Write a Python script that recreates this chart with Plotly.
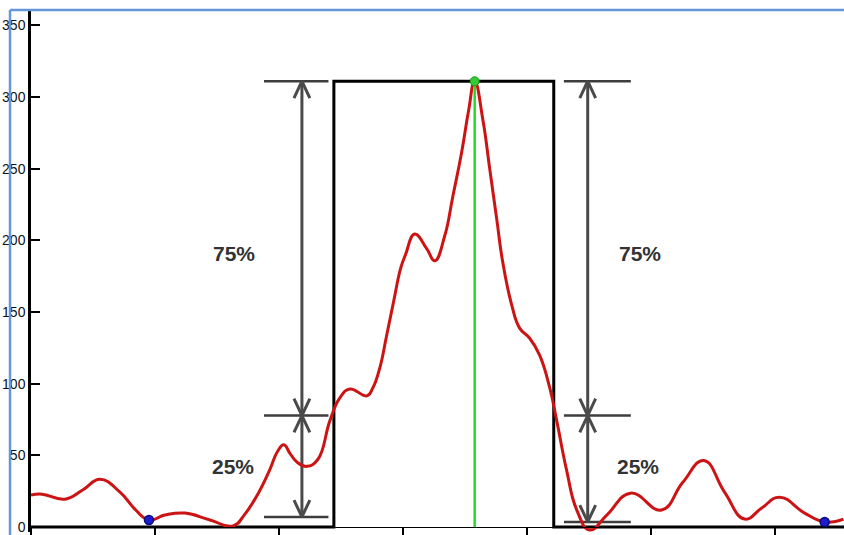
import plotly.graph_objects as go

# Measured response (red trace)
curve_x = [0, 4.4, 13.7, 21, 27.8, 35.9, 41.9, 47.6, 54, 62.1,
           72.2, 81.5, 86.3, 91.5, 96.4, 99.4, 102, 104.6, 107.5, 111.3, 115.7, 120.6,
           124.6, 128.6, 135.5, 137.9, 140.7, 143.5, 146.3, 149.1, 151.1, 154.8, 159.7, 162.9,
           166.9, 170.2, 173.8, 176.5, 179, 182.3, 185.1, 187.9, 190.3, 194,
           197.2, 201.2, 205.2, 209.3, 212.1, 216.1, 220.2, 225.4, 232.3, 241.9,
           254.4, 262.9, 271.4, 279.8, 287.9, 294.8, 302, 312.1, 320.2, 327.8]
curve_y = [22.2, 22.9, 19.4, 26, 33.3, 24.3, 12.5, 4.9, 8.3, 9.7,
           4.9, 0.7, 9, 22.9, 40.2, 52.5, 57.3, 51, 45, 42.3, 47.1, 74.2,
           90.1, 96.3, 91.5, 97, 110.9, 133.8, 157.3, 180.3, 190, 204.4, 194, 185.7,
           203, 230.8, 262, 290, 311, 284.1, 249.5, 214.8, 185, 154.5,
           138.6, 131.7, 119.9, 97, 74.2, 39.5, 11.8, -2.1, 8.3, 23.6,
           11.8, 31, 46.4, 24.3, 5.5, 13.2, 20.8, 9.7, 3.5, 5.5]

# Local minima used as the baseline reference points (blue dots)
minima_x = [47.6, 320.2]
minima_y = [4.9, 3.5]

# Ideal rectangular pulse edges
pulse_edges = [122.2, 210.9]
x_end = 328

# Dimension arrows: x position, extent of the horizontal guide lines, baseline
dim_x = [109.3, 224.6]
guide_lo = [94, 215]
guide_hi = [120, 242]
dim_base = [7, 3.5]

# Percentage labels
label_x = [[82, 245.6], [81.5, 244.8]]
label_y = [190.6, 42.3]
label_text = ["75%", "25%"]

peak_y = max(curve_y)
peak_x = curve_x[curve_y.index(peak_y)]
quarter = 0.25 * peak_y

Y_MIN, Y_MAX = -3.5, 360

fig = go.Figure()

# Ideal pulse (black step)
step_x = [0, pulse_edges[0], pulse_edges[0], pulse_edges[1], pulse_edges[1], x_end]
step_y = [0, 0, peak_y, peak_y, 0, 0]
fig.add_trace(go.Scatter(x=step_x, y=step_y, mode="lines",
                         line=dict(color="black", width=3), hoverinfo="skip"))

# Dimension arrows
ARM_DX, ARM_DY = 3.2, 11.8
gx, gy, ax_, ay_ = [], [], [], []
for i in range(2):
    x0 = dim_x[i]
    base = dim_base[i]
    for yv in (peak_y, quarter, base):
        gx += [guide_lo[i], guide_hi[i], None]
        gy += [yv, yv, None]
    ax_ += [x0, x0, None]
    ay_ += [base, peak_y, None]
    # heads: (tip y, direction) +1 pointing up, -1 pointing down
    for tip, d in ((peak_y, 1), (quarter, -1), (quarter, 1), (base, -1)):
        ax_ += [x0 - ARM_DX, x0, x0 + ARM_DX, None]
        ay_ += [tip - d * ARM_DY, tip, tip - d * ARM_DY, None]

fig.add_trace(go.Scatter(x=gx, y=gy, mode="lines",
                         line=dict(color="#3d3d3d", width=2.5), hoverinfo="skip"))
fig.add_trace(go.Scatter(x=ax_, y=ay_, mode="lines",
                         line=dict(color="#4a4a4a", width=3), hoverinfo="skip"))

# Response curve
fig.add_trace(go.Scatter(x=curve_x, y=curve_y, mode="lines",
                         line=dict(color="#cc1414", width=3, shape="spline", smoothing=1.3),
                         hoverinfo="skip"))

# Peak line and marker
fig.add_trace(go.Scatter(x=[peak_x, peak_x], y=[0, peak_y], mode="lines",
                         line=dict(color="#22dd22", width=2.5), hoverinfo="skip"))
fig.add_trace(go.Scatter(x=[peak_x], y=[peak_y], mode="markers",
                         marker=dict(color="#33cc33", size=9, line=dict(color="#1f9a1f", width=1)),
                         hoverinfo="skip"))

# Baseline minima
fig.add_trace(go.Scatter(x=minima_x, y=minima_y, mode="markers",
                         marker=dict(color="#1c1ccc", size=9, line=dict(color="#0a0a80", width=1.5)),
                         hoverinfo="skip"))

for row, txt in enumerate(label_text):
    for xv in label_x[row]:
        fig.add_annotation(x=xv, y=label_y[row], text="<b>%s</b>" % txt, showarrow=False,
                           font=dict(family="Liberation Sans", size=21, color="#333333"),
                           xanchor="center", yanchor="middle")

W, H = 844, 535
ML, MT = 31, 11
plot_w = W - ML
plot_h = H - MT

# Window frame (blue) at top and left
frame_x = (10 - ML) / plot_w
frame_y = 1 + (MT - 10) / plot_h
fig.add_shape(type="line", xref="paper", yref="paper", x0=frame_x, x1=1.05, y0=frame_y, y1=frame_y,
              line=dict(color="#6496d8", width=2.5), layer="above")
fig.add_shape(type="line", xref="paper", yref="paper", x0=frame_x, x1=frame_x, y0=-0.05, y1=frame_y,
              line=dict(color="#6496d8", width=2.5), layer="above")

fig.update_layout(
    width=W, height=H,
    margin=dict(l=ML, r=0, t=MT, b=0, pad=0),
    paper_bgcolor="white", plot_bgcolor="white",
    showlegend=False,
    xaxis=dict(range=[0, x_end], showgrid=False, zeroline=False,
               showline=True, linecolor="black", linewidth=1,
               ticks="outside", ticklen=8, tickwidth=1.5, tickcolor="black",
               tickvals=[0, 50, 100, 150, 200, 250, 300], showticklabels=False,
               anchor="free", position=(0 - Y_MIN) / (Y_MAX - Y_MIN)),
    yaxis=dict(range=[Y_MIN, Y_MAX], showgrid=False, zeroline=False,
               showline=True, linecolor="black", linewidth=2.5,
               ticks="inside", ticklen=9, tickwidth=2, tickcolor="black",
               tickvals=[0, 50, 100, 150, 200, 250, 300, 350],
               tickfont=dict(family="Liberation Sans", size=14, color="#111111")),
)

fig.write_html("out.html", config={"displayModeBar": False})
